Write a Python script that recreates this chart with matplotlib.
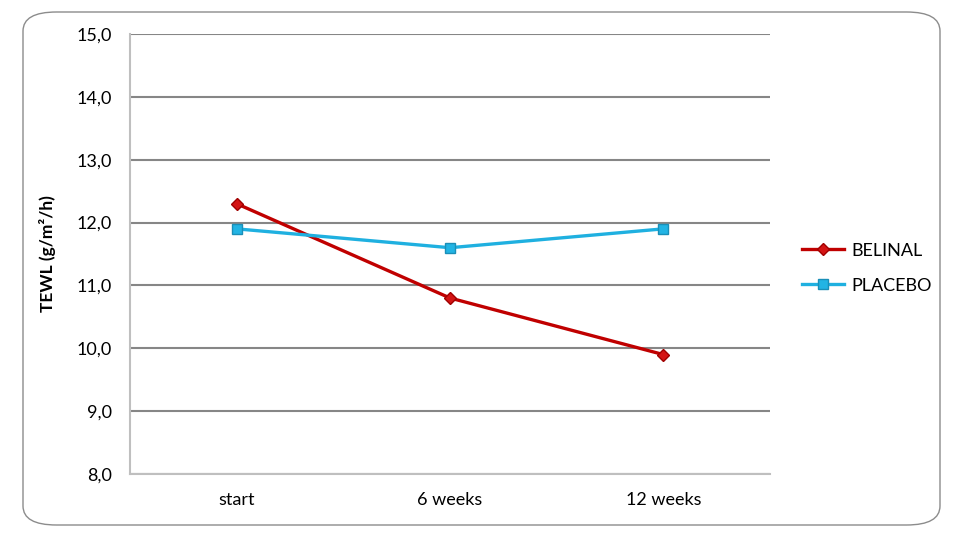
import matplotlib.pyplot as plt
from matplotlib.patches import FancyBboxPatch

categories = ["start", "6 weeks", "12 weeks"]
belinal = [12.3, 10.8, 9.9]
placebo = [11.9, 11.6, 11.9]
y_ticks = [8, 9, 10, 11, 12, 13, 14, 15]

plt.rcParams['font.family'] = ['Lato', 'DejaVu Sans']

fig = plt.figure(figsize=(9.57, 5.43), dpi=100)

# rounded chart border, kept behind the axes
border = FancyBboxPatch((23 / 957, 1 - 525 / 543), 917 / 957, 513 / 543,
                        boxstyle="round,pad=0,rounding_size=0.035",
                        transform=fig.transFigure, facecolor="white",
                        edgecolor="#8c8c8c", linewidth=1.0, zorder=-10)
fig.patches.append(border)

ax = fig.add_axes([130 / 957, 1 - 474 / 543, 640 / 957, 440 / 543])
ax.set_facecolor("none")
ax.set_zorder(1)

x = range(len(categories))
ax.plot(x, belinal, color="#c00000", linewidth=2.4, marker="D", markersize=6,
        markerfacecolor="#d41414", markeredgecolor="#a00000", label="BELINAL", zorder=3)
ax.plot(x, placebo, color="#1fb0e0", linewidth=2.4, marker="s", markersize=7,
        markerfacecolor="#22b4e4", markeredgecolor="#1a8fb8", label="PLACEBO", zorder=3)

ax.set_xlim(-0.5, 2.5)
ax.set_ylim(8, 15)
ax.set_yticks(y_ticks)
ax.set_yticklabels(["{:.1f}".format(v).replace(".", ",") for v in y_ticks])
ax.set_xticks(list(x))
ax.set_xticklabels(categories)

ax.grid(axis="y", color="#868686", linewidth=1.5)
ax.set_axisbelow(True)
for s in ["top", "right"]:
    ax.spines[s].set_visible(False)
for s in ["left", "bottom"]:
    ax.spines[s].set_color("#bfbfbf")
    ax.spines[s].set_linewidth(1.5)
ax.tick_params(length=0, labelsize=13, colors="black")
ax.tick_params(axis="y", pad=13)
ax.tick_params(axis="x", pad=13)

ax.set_ylabel("TEWL (g/m²/h)", fontsize=12.5, fontweight="bold", labelpad=15)

ax.legend(loc="center left", bbox_to_anchor=(1.025, 0.468), frameon=False,
          fontsize=13, handlelength=2.3, handletextpad=0.4, labelspacing=1.05)

fig.savefig("out.png", dpi=100)
